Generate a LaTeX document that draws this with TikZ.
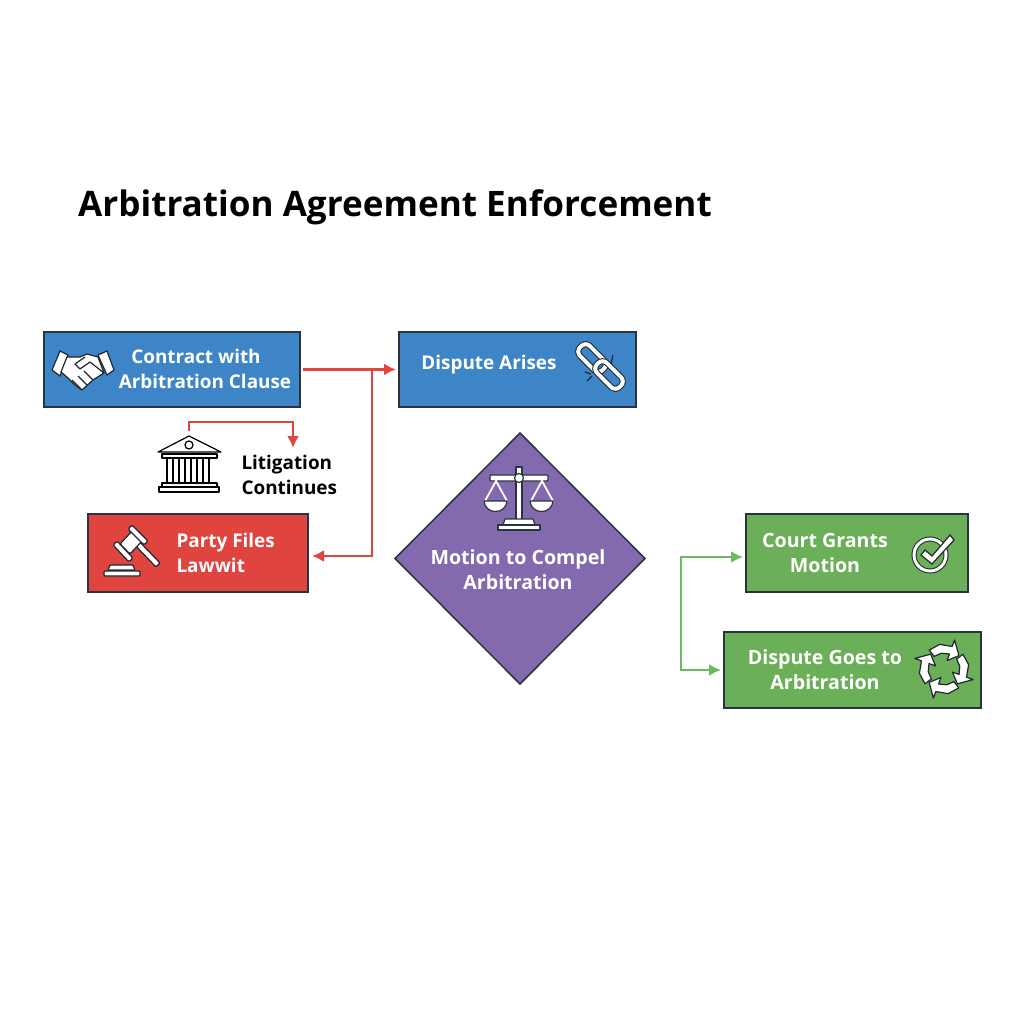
\documentclass[tikz,border=0pt]{standalone}
\usepackage{xcolor}
\usepackage{fontspec}
\usepackage{tikz}
\usetikzlibrary{arrows.meta,shapes.geometric}
\setmainfont{Open Sans}

\definecolor{boxblue}{HTML}{3D85C6}
\definecolor{boxred}{HTML}{E0443F}
\definecolor{boxpurple}{HTML}{8369AE}
\definecolor{boxgreen}{HTML}{6BAF58}
\definecolor{edgedark}{HTML}{2A3440}
\definecolor{linered}{HTML}{E2453F}
\definecolor{linegreen}{HTML}{69BC5B}
\definecolor{icondark}{HTML}{20262E}

\tikzset{
    flowbox/.style={draw=edgedark, line width=1.5pt, inner sep=0pt, outer sep=0pt},
    boxtext/.style={text=white, align=center, font=\fontsize{18.9}{25}\selectfont\bfseries},
    bigtext/.style={boxtext, font=\fontsize{19.6}{25}\selectfont\bfseries},
    redline/.style={draw=linered, line width=2.2pt, -{Latex[length=12pt,width=12pt]}},
    greenline/.style={draw=linegreen, line width=2.2pt, -{Latex[length=12pt,width=12pt]}},
    iconline/.style={draw=icondark, line width=1.2pt, fill=white, line join=round},
}

\begin{document}
\begin{tikzpicture}[x=1pt,y=-1pt]
    \useasboundingbox (0,0) rectangle (1024,1024);

    % Title
    \node[anchor=west, inner sep=0pt, font=\fontsize{35.1}{40}\selectfont\bfseries] (title) at (78,207) {Arbitration Agreement Enforcement};

    % Boxes and the diamond
    \node[flowbox, fill=boxblue, minimum width=256pt, minimum height=75pt] (contract) at (172,369.5) {};
    \node[flowbox, fill=boxblue, minimum width=237pt, minimum height=75pt] (dispute) at (517.5,369.5) {};
    \node[flowbox, fill=boxred, minimum width=220pt, minimum height=78pt] (party) at (198,553) {};
    \node[flowbox, fill=boxgreen, minimum width=222pt, minimum height=78pt] (court) at (857,553) {};
    \node[flowbox, fill=boxgreen, minimum width=257pt, minimum height=76pt] (goes) at (852.5,670) {};
    \node[flowbox, shape=diamond, fill=boxpurple, minimum width=250pt, minimum height=251pt] (motion) at (520,558.5) {};

    % Box labels
    \node[boxtext] (contracttext) at (205,369) {Contract with\hspace*{18pt}\\Arbitration Clause};
    \node[boxtext] (disputetext) at (489,365) {Dispute Arises};
    \node[boxtext, align=left, anchor=west] (partytext) at (173,553) {Party Files\\Lawwit};
    \node[bigtext] (motiontext) at (518,570) {Motion to Compel\\Arbitration};
    \node[bigtext] (courttext) at (825,553) {Court Grants\\Motion};
    \node[bigtext] (goestext) at (825,670) {Dispute Goes to\\Arbitration};
    \node[boxtext, text=black, align=left, anchor=west] (litigation) at (238,475) {Litigation\\Continues};

    % Red connectors
    \coordinate (redfork) at (372,369.5);
    \draw[redline, shorten <=3pt, shorten >=3pt] (contract) -- (dispute);
    \draw[redline, shorten >=4pt] (redfork) |- ([yshift=-3pt]party.east);
    \coordinate (templetop) at (189,431);
    \coordinate (litigationtop) at (293,448);
    \draw[redline] (templetop) |- ++(104,-9) -- (litigationtop);

    % Green connectors
    \coordinate (greenfork) at (681,610);
    \draw[greenline, shorten >=3pt] (greenfork) |- ([yshift=-4pt]court.west);
    \draw[greenline, shorten >=3pt] (greenfork) |- (goes.west);

    % Handshake
    \draw[iconline] (60,351) -- (68,355) -- (60,376) -- (52,370) -- cycle;
    \draw[iconline] (98,355) -- (107,351) -- (114,370) -- (107,375) -- cycle;
    \draw[iconline] (67,357) -- (80,357) -- (87,354) -- (98,357) -- (104,373) -- (93,380) -- (82,390) -- (75,385) -- (68,378) -- (61,372) -- cycle;
    \draw[icondark, line width=1.2pt, line join=round] (85,357) -- (75,364) -- (80,369) -- (90,362) -- (104,373);
    \foreach \x/\y in {93/380, 87/385, 81/389} {
        \draw[icondark, line width=1.2pt] (\x,\y) -- (\x-9,\y-9);
    }

    % Broken chain
    \foreach \cx/\cy in {592/358, 609/375} {
        \draw[icondark, line width=6pt, rounded corners=6pt, rotate around={-45:(\cx,\cy)}] (\cx-16,\cy-7) rectangle (\cx+16,\cy+7);
        \draw[white, line width=4pt, rounded corners=6pt, rotate around={-45:(\cx,\cy)}] (\cx-16,\cy-7) rectangle (\cx+16,\cy+7);
    }
    \draw[icondark, line width=1.2pt] (585,372) -- (591,374);
    \draw[icondark, line width=1.2pt] (587,381) -- (592,376);
    \draw[icondark, line width=1.2pt] (613,355) -- (611,364);

    % Courthouse
    \draw[iconline, draw=black] (189,436) -- (221,452) -- (158,452) -- cycle;
    \draw[black, line width=1.2pt] (189,445) circle (4);
    \draw[iconline, draw=black] (162,454) rectangle (217,458);
    \foreach \x in {167,173,...,213} {
        \draw[black, line width=1.2pt] (\x,458) -- (\x,483);
    }
    \draw[iconline, draw=black] (162,483) rectangle (217,487);
    \draw[iconline, draw=black] (159,487) rectangle (219,492);

    % Gavel
    \draw[iconline, rounded corners=1pt] (130,540) -- (134,536) -- (160,563) -- (156,567) -- cycle;
    \draw[iconline, rounded corners=2pt] (120,544) -- (133,530) -- (143,540) -- (130,554) -- cycle;
    \draw[iconline, rounded corners=2pt] (113,545) -- (117,541) -- (133,558) -- (129,562) -- cycle;
    \draw[iconline, rounded corners=2pt] (128,529) -- (132,525) -- (148,541) -- (144,545) -- cycle;
    \draw[iconline, rounded corners=1pt] (110,565) -- (133,565) -- (135,570) -- (108,570) -- cycle;
    \draw[iconline, rounded corners=1pt] (104,571) rectangle (140,576);

    % Scales
    \draw[iconline, draw=edgedark] (516,467) rectangle (522,520);
    \draw[iconline, draw=edgedark, rounded corners=1pt] (490,475) rectangle (548,481);
    \draw[iconline, draw=edgedark] (519,478) circle (4.5);
    \draw[white, line width=1.8pt] (485,501) -- (496,481) -- (507,501);
    \draw[white, line width=1.8pt] (531,501) -- (542,481) -- (553,501);
    \draw[iconline, draw=edgedark] (484,501) -- (507,501) .. controls (506,515) and (485,515) .. (484,501);
    \draw[iconline, draw=edgedark] (530,501) -- (553,501) .. controls (552,515) and (531,515) .. (530,501);
    \draw[iconline, draw=edgedark] (505,519) -- (533,519) -- (535,525) -- (503,525) -- cycle;
    \draw[iconline, draw=edgedark] (498,525) rectangle (540,530);

    % Check mark
    \draw[icondark, line width=5pt] (930,555) circle (16);
    \draw[white, line width=3pt] (930,555) circle (16);
    \draw[iconline, line join=miter] (921,555) -- (925,550) -- (932,556) -- (950,535) -- (954,540) -- (932,564) -- cycle;

    % Circular arrows
    \begin{scope}[shift={(944,669)}]
        \foreach \a in {-128,-38,52,142} {
            \draw[iconline] (\a:24) -- (\a+28:25) -- (\a+58:24) -- (\a+58:31) -- (\a+86:20) -- (\a+58:9) -- (\a+58:16) -- (\a+28:16) -- (\a:16) -- cycle;
        }
    \end{scope}
\end{tikzpicture}
\end{document}
